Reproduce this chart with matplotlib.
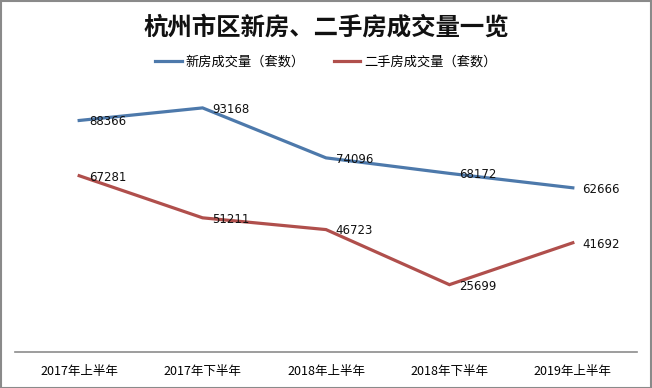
import matplotlib.pyplot as plt
from matplotlib.patches import Rectangle

plt.rcParams['font.family'] = ['Noto Sans CJK SC', 'DejaVu Sans']

periods = ['2017年上半年', '2017年下半年', '2018年上半年', '2018年下半年', '2019年上半年']
new_homes = [88366, 93168, 74096, 68172, 62666]
resale_homes = [67281, 51211, 46723, 25699, 41692]
series_names = ['新房成交量（套数）', '二手房成交量（套数）']

blue = '#4d79ab'
red = '#b04f4c'

fig = plt.figure(figsize=(6.52, 3.88), dpi=100)
ax = fig.add_axes([15 / 652, 36 / 388, 622 / 652, 262 / 388])

x = range(len(periods))
ax.plot(x, new_homes, color=blue, lw=2.3, label=series_names[0], solid_joinstyle='miter')
ax.plot(x, resale_homes, color=red, lw=2.3, label=series_names[1], solid_joinstyle='miter')

for xs, ys in [(x, new_homes), (x, resale_homes)]:
    for xi, yi in zip(xs, ys):
        ax.annotate(f'{yi}', (xi, yi), xytext=(7, -1), textcoords='offset points',
                    ha='left', va='center', fontsize=8.5, family='DejaVu Sans', color='#111111')

ax.set_xlim(-0.52, 4.52)
ax.set_ylim(0, 100000)
ax.set_yticks([])
ax.set_xticks(list(x))
ax.set_xticklabels(periods, fontsize=9)
ax.tick_params(axis='x', length=0, pad=9)
for s in ['top', 'left', 'right']:
    ax.spines[s].set_visible(False)
ax.spines['bottom'].set_color('#8c8c8c')
ax.spines['bottom'].set_linewidth(1.2)

fig.text(0.5, 0.93, '杭州市区新房、二手房成交量一览', ha='center', va='center',
         fontsize=17.6, fontweight='bold', color='#111111')

fig.legend(loc='center', bbox_to_anchor=(0.5, 0.84), ncol=2, frameon=False,
           fontsize=9.5, handlelength=2.0, handletextpad=0.3, columnspacing=2.2)

fig.patches.append(Rectangle((0.001, 0.001), 0.997, 0.996, transform=fig.transFigure,
                             fill=False, edgecolor='#8a8a8a', lw=1.5))

fig.savefig('out.png', dpi=100)
